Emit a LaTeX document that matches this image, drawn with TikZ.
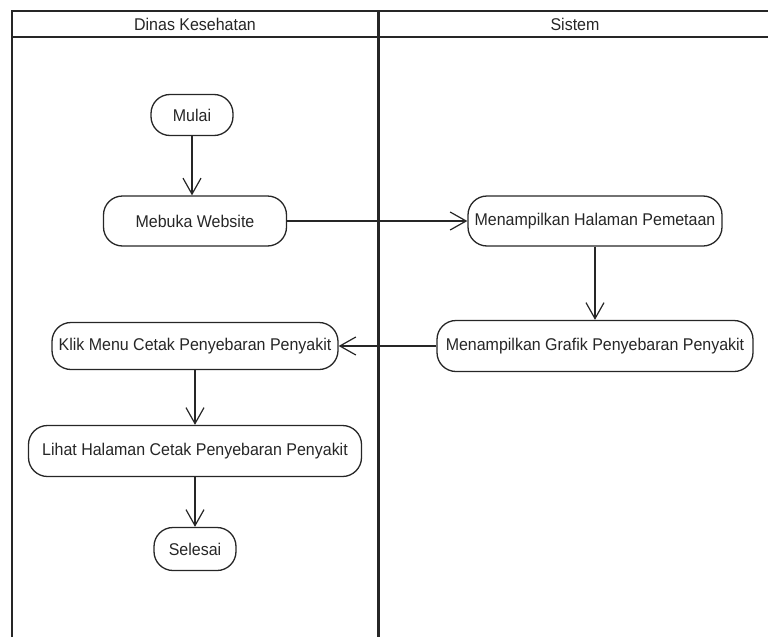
\documentclass[tikz,border=0pt]{standalone}
\usepackage{fontspec}
\setmainfont[FakeStretch=0.94]{Liberation Sans}
\usetikzlibrary{arrows.meta}
\begin{document}
\begin{tikzpicture}[x=1pt,y=-1pt,
  act/.style={draw=black!85, line width=1.3pt, rounded corners=19pt, inner sep=0pt,
    text=black!85, font=\fontsize{17}{19}\selectfont},
  lane/.style={draw=black!85},
  hdr/.style={text=black!85, font=\fontsize{17}{19}\selectfont},
  flow/.style={draw=black!85, line width=1.2pt,
    -{Straight Barb[length=16pt,width=18pt,line width=1.2pt]}}]
\useasboundingbox (0,0) rectangle (768,637);
% swimlane frame
\draw[lane, line width=2pt] (12,637) -- (12,11) -- (768,11);
\draw[lane, line width=2.5pt] (12,37) -- (768,37);
\draw[lane, line width=3pt] (378,11) -- (378,637);
\node[hdr] (h1) at (195,24) {Dinas Kesehatan};
\node[hdr] (h2) at (575,24) {Sistem};
% activities
\node[act, minimum width=82pt, minimum height=41pt] (mulai) at (192,115) {Mulai};
\node[act, minimum width=183pt, minimum height=50pt] (mebuka) at (195,221) {Mebuka Website};
\node[act, minimum width=254pt, minimum height=50pt] (halaman) at (595,221) {Menampilkan Halaman Pemetaan};
\node[act, minimum width=316pt, minimum height=51pt] (grafik) at (595,346) {Menampilkan Grafik Penyebaran Penyakit};
\node[act, minimum width=286pt, minimum height=47pt] (klik) at (195,346) {Klik Menu Cetak Penyebaran Penyakit};
\node[act, minimum width=333pt, minimum height=51pt] (lihat) at (195,451) {Lihat Halaman Cetak Penyebaran Penyakit};
\node[act, minimum width=82pt, minimum height=43pt] (selesai) at (195,549) {Selesai};
% flows
\draw[flow] (mulai) -- (mulai |- mebuka.north);
\draw[flow] (mebuka) -- (halaman);
\draw[flow] (halaman) -- (grafik);
\draw[flow] (grafik) -- (klik);
\draw[flow] (klik) -- (lihat);
\draw[flow] (lihat) -- (selesai);
\end{tikzpicture}
\end{document}
